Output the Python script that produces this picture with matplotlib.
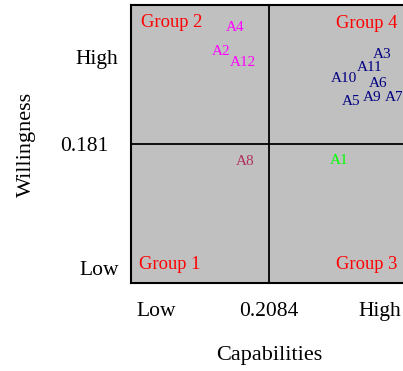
import matplotlib.pyplot as plt
from matplotlib.transforms import ScaledTranslation

# thresholds of the quadrants
x_cut = 0.2084
y_cut = 0.181

labels = ['A1', 'A2', 'A3', 'A4', 'A5', 'A6', 'A7', 'A8', 'A9', 'A10', 'A11', 'A12']
capabilities = [0.314, 0.136, 0.380, 0.157, 0.332, 0.373, 0.397, 0.172, 0.364, 0.322, 0.361, 0.169]
willingness = [0.160, 0.301, 0.297, 0.333, 0.236, 0.260, 0.242, 0.158, 0.242, 0.266, 0.280, 0.287]
colors = ['#00ff00', '#ff00ff', '#000080', '#ff00ff', '#000080', '#000080', '#000080',
          '#b03060', '#000080', '#000080', '#000080', '#ff00ff']

groups = ['Group 1', 'Group 2', 'Group 3', 'Group 4']
x_ticks = [0.0378, x_cut, 0.376]
x_ticklabels = ['Low', '0.2084', 'High']
y_ticks = [0.0195, y_cut, 0.294]
y_ticklabels = ['Low', '0.181', 'High']

plt.rcParams['font.family'] = ['Liberation Serif', 'DejaVu Serif']

fig = plt.figure(figsize=(4.03, 3.71), dpi=100)
ax = fig.add_axes([131 / 403, 88 / 371, 276 / 403, 278 / 371])
ax.set_facecolor('#c0c0c0')
ax.set_xlim(0, 2 * x_cut)
ax.set_ylim(0, 2 * y_cut)

ax.axvline(x_cut, color='black', linewidth=1.3)
ax.axhline(y_cut, color='black', linewidth=1.3)

for lab, x, y, c in zip(labels, capabilities, willingness, colors):
    ax.text(x, y, lab, color=c, fontsize=11, ha='center', va='center')

group_pos = [(0.141, 0.065), (0.149, 0.937), (0.855, 0.065), (0.855, 0.932)]
for g, (gx, gy) in zip(groups, group_pos):
    ax.text(gx, gy, g, color='red', fontsize=13.3, ha='center', va='center',
            transform=ax.transAxes)

ax.set_xticks(x_ticks)
ax.set_xticklabels(x_ticklabels, fontsize=15.5)
ax.set_yticks(y_ticks)
ax.set_yticklabels(y_ticklabels, fontsize=15.5)
ax.tick_params(length=0)
ax.tick_params(axis='x', pad=14)
ax.tick_params(axis='y', pad=9)

# the middle label sits a little further left in the original
mid = ax.get_yticklabels()[1]
mid.set_transform(mid.get_transform() + ScaledTranslation(-0.10, 0, fig.dpi_scale_trans))

ax.set_xlabel('Capabilities', fontsize=16)
ax.xaxis.set_label_coords(0.5, -0.225)
ax.set_ylabel('Willingness', fontsize=16, va='center')
ax.yaxis.set_label_coords(-0.378, 0.5)

for s in ax.spines.values():
    s.set_linewidth(1.5)

fig.savefig('out.png', dpi=100)
